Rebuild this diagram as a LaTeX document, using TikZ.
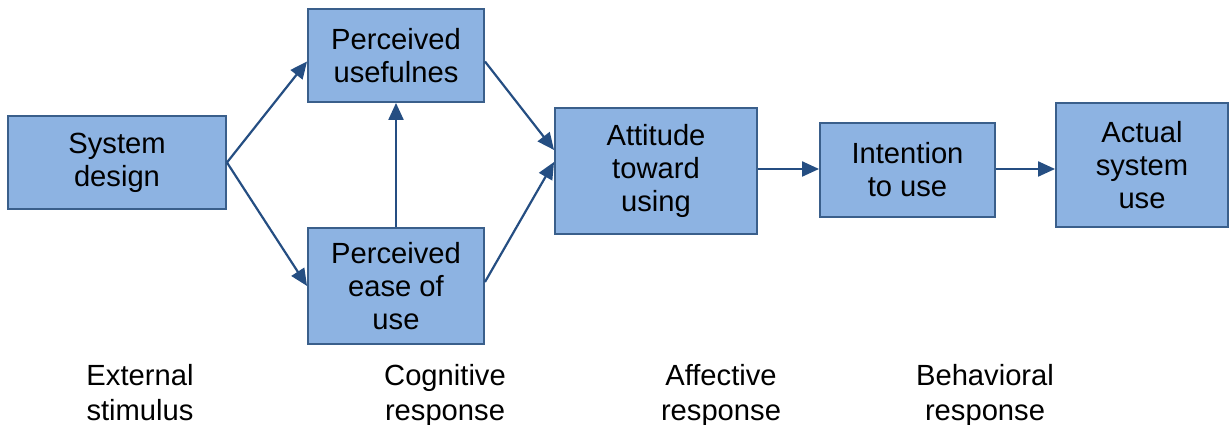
\documentclass[tikz,border=0pt]{standalone}
\usepackage{fontspec}
\setmainfont{Liberation Sans}
\usepackage{xcolor}
\usepackage{tikz}
\usetikzlibrary{arrows.meta,positioning,calc}

\definecolor{boxfill}{HTML}{8DB3E2}
\definecolor{boxline}{HTML}{3A5F8B}
\definecolor{arrowcol}{HTML}{254E82}

\begin{document}
\begin{tikzpicture}[
        stagebox/.style={rectangle, draw=boxline, fill=boxfill, line width=1.1pt, inner sep=0pt, align=center, font=\fontsize{16.6}{18.7}\selectfont},
        stagelabel/.style={anchor=north, inner sep=0pt, align=center, font=\fontsize{16.6}{20}\selectfont},
        link/.style={draw=arrowcol, line width=1.25pt, -{Triangle[length=0.34cm,width=0.3cm]}}
    ]

    \useasboundingbox (0,0) rectangle (24.6,8.5);

    % Boxes
    \node[stagebox, minimum width=4.36cm, minimum height=1.86cm] (design) at (2.34,5.25) {System\\design};
    \node[stagebox, minimum width=3.52cm, minimum height=1.86cm] (useful) at (7.92,7.39) {Perceived\\usefulnes};
    \node[stagebox, minimum width=3.52cm, minimum height=2.32cm] (ease) at (7.92,2.78) {Perceived\\ease of\\use};
    \node[stagebox, minimum width=4.04cm, minimum height=2.52cm] (attitude) at (13.12,5.08) {Attitude\\toward\\using};
    \node[stagebox, minimum width=3.5cm, minimum height=1.88cm] (intention) at (18.15,5.10) {Intention\\to use};
    \node[stagebox, minimum width=3.44cm, minimum height=2.48cm] (actual) at (22.84,5.2) {Actual\\system\\use};

    % Arrows
    \draw[link] (design.east) -- ([yshift=-0.12cm]useful.west);
    \draw[link] (design.east) -- (ease.west);
    \draw[link] (ease.north) -- (useful.south);
    \draw[link] ([yshift=-0.12cm]useful.east) -- ([yshift=0.42cm]attitude.west);
    \draw[link] ([yshift=0.08cm]ease.east) -- ([yshift=0.18cm]attitude.west);
    \draw[link] ([yshift=0.04cm]attitude.east) -- ([yshift=0.04cm]attitude.east -| intention.west);
    \draw[link] ([yshift=0.04cm]attitude.east -| intention.east) -- ([yshift=0.04cm]attitude.east -| actual.west);

    % Stage labels
    \node[stagelabel] (ext) at (2.8,1.22) {External\\stimulus};
    \node[stagelabel] (cog) at (8.9,1.22) {Cognitive\\response};
    \node[stagelabel] (aff) at (14.42,1.22) {Affective\\response};
    \node[stagelabel] (beh) at (19.7,1.22) {Behavioral\\response};

\end{tikzpicture}
\end{document}
